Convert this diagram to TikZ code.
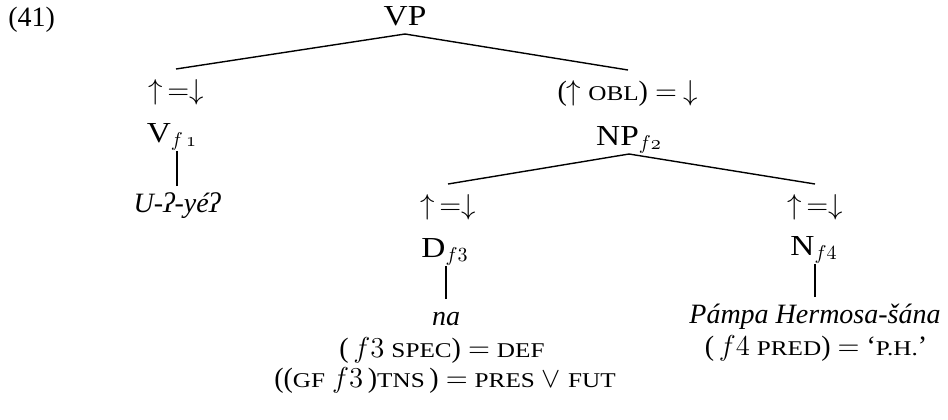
\documentclass[tikz,border=0pt]{standalone}
\usepackage{fontspec}
\setmainfont{Liberation Serif}
\newfontfamily\catfont[FakeStretch=1.15]{Liberation Serif}
\newfontfamily\scfont[FakeStretch=1.2]{Liberation Serif}
\newcommand\fsc[1]{{\scfont\fontsize{10.5}{12}\selectfont #1}}
\newcommand\upeqdown{$\mathord{\uparrow}\,{=}\mathord{\downarrow}$}
\begin{document}
\begin{tikzpicture}[x=0.5pt,y=-0.5pt,
  every node/.style={font=\fontsize{14}{17}\selectfont, inner sep=0pt, anchor=base},
  ann/.style={text height=10pt, text depth=3pt, outer sep=5pt},
  cat/.style={text height=9pt, text depth=4pt, outer sep=0.5pt, font=\fontsize{14.5}{17}\selectfont\catfont},
  word/.style={text height=10pt, text depth=3pt, outer sep=3pt, font=\fontsize{14}{17}\selectfont\itshape},
  eq/.style={},
  edge/.style={line width=0.7pt}]
\useasboundingbox (0,0) rectangle (948,419);
\node[anchor=base west] (ex) at (8,26) {(41)};
\node[cat] (vp) at (405,25) {VP};
% left branch
\node[ann] (a1) at (176,99) {\upeqdown};
\node[cat] (v) at (172,142) {V$_{f\,\mathnormal{1}}$};
\node[word] (w1) at (177,212) {U-ʔ-yéʔ};
% right branch
\node[ann] (a2) at (628,100) {($\uparrow$ \fsc{OBL}) $=$ $\downarrow$};
\node[cat] (np) at (629,145) {NP$_{f\mathnormal{2}}$};
% D
\node[ann] (a3) at (448,214) {\upeqdown};
\node[cat] (d) at (445,257) {D$_{f3}$};
\node[word] (w3) at (446,325) {na};
\node[eq] (e3a) at (442,357) {(\,$f3$ \fsc{SPEC}) $=$ \fsc{DEF}};
\node[eq] (e3b) at (445,387) {((\fsc{GF} $f3$\,)\fsc{TNS}\,) $=$ \fsc{PRES} $\vee$ \fsc{FUT}};
% N
\node[ann] (a4) at (815,214) {\upeqdown};
\node[cat] (n) at (814,255) {N$_{f4}$};
\node[word] (w4) at (815,323) {Pámpa Hermosa-šána};
\node[eq] (e4) at (816,355) {(\,$f4$ \fsc{PRED}) $=$ ‘\fsc{P.H.}’};
% connectors
\draw[edge] (a1.north) -- (vp.south) -- (a2.north);
\draw[edge] (a3.north) -- (np.south) -- (a4.north);
\draw[edge] (w1.north) -- (w1.north |- v.south);
\draw[edge] (w3.north) -- (w3.north |- d.south);
\draw[edge] (w4.north) -- (w4.north |- n.south);
\end{tikzpicture}
\end{document}
